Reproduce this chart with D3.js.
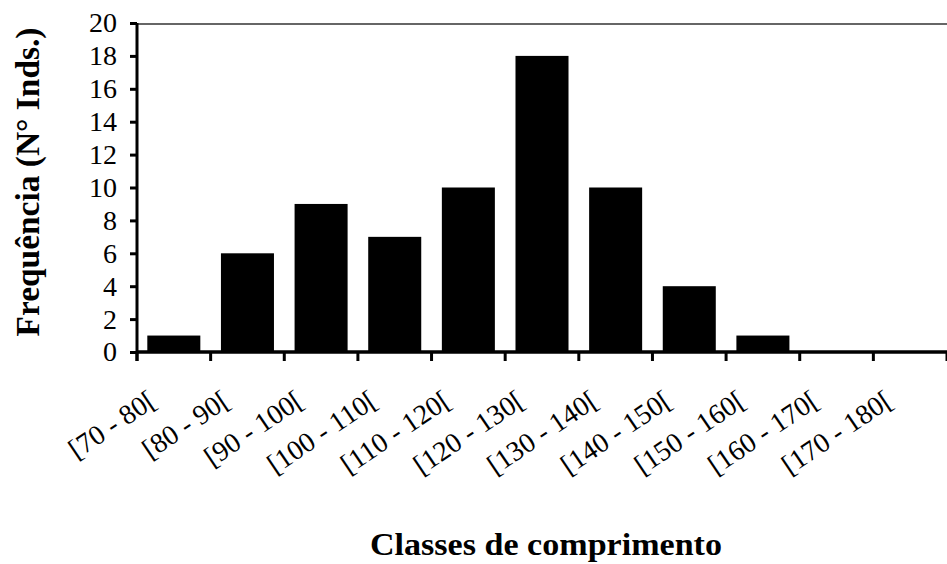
<!DOCTYPE html>
<html>
<head>
<meta charset="utf-8">
<script src="https://cdn.jsdelivr.net/npm/d3@7/dist/d3.min.js"></script>
<style>
  html, body { margin: 0; padding: 0; background: #fff; }
  svg { display: block; }
</style>
</head>
<body>
<svg id="chart" width="947" height="564"></svg>
<script>
const categories = ["[70 - 80[", "[80 - 90[", "[90 - 100[", "[100 - 110[", "[110 - 120[", "[120 - 130[",
                    "[130 - 140[", "[140 - 150[", "[150 - 160[", "[160 - 170[", "[170 - 180["];
const frequencies = [1, 6, 9, 7, 10, 18, 10, 4, 1, 0, 0];
const yTicks = [0, 2, 4, 6, 8, 10, 12, 14, 16, 18, 20];
const yTitle = "Frequência (N° Inds.)";
const xTitle = "Classes de comprimento";

(function () {
const svg = d3.select("#chart");
const mLeft = 137, mRight = 947, mTop = 23, mBottom = 352;

const x = d3.scaleBand().domain(categories).range([mLeft, mRight])
  .paddingInner(0.28).paddingOuter(0.14);
const y = d3.scaleLinear().domain([0, 20]).range([mBottom, mTop]);

// top border line
svg.append("line")
  .attr("x1", mLeft).attr("x2", mRight)
  .attr("y1", y(20) + 1).attr("y2", y(20) + 1)
  .attr("stroke", "#333").attr("stroke-width", 1.5);

// bars
svg.append("g").selectAll("rect").data(categories).join("rect")
  .attr("x", d => x(d))
  .attr("width", x.bandwidth())
  .attr("y", (d, i) => y(frequencies[i]))
  .attr("height", (d, i) => y(0) - y(frequencies[i]))
  .attr("fill", "#000");

// y axis
const yAxis = d3.axisLeft(y).tickValues(yTicks).tickSize(7).tickPadding(13).tickFormat(d3.format("d"));
const gy = svg.append("g").attr("transform", `translate(${mLeft},0)`).call(yAxis);
gy.select(".domain").attr("stroke", "#000").attr("stroke-width", 3)
  .attr("d", `M0,${y(0) + 9}V${y(20)}`);
gy.selectAll(".tick line").attr("stroke", "#000").attr("stroke-width", 3);
gy.selectAll(".tick text")
  .attr("font-family", "'Liberation Serif', 'Times New Roman', serif")
  .attr("font-size", 28).attr("fill", "#000");

// x axis: baseline + boundary ticks
const step = x.step();
const boundaries = categories.map(c => x(c) - step * x.paddingInner() / 2).concat([mRight]);
const gx = svg.append("g");
gx.append("line")
  .attr("x1", mLeft).attr("x2", mRight)
  .attr("y1", y(0)).attr("y2", y(0))
  .attr("stroke", "#000").attr("stroke-width", 3.5);
gx.selectAll("line.tk").data(boundaries).join("line")
  .attr("class", "tk")
  .attr("x1", d => d).attr("x2", d => d)
  .attr("y1", y(0)).attr("y2", y(0) + 9)
  .attr("stroke", "#000").attr("stroke-width", 3);

// x labels, rotated
gx.selectAll("text").data(categories).join("text")
  .attr("transform", d => `translate(${x(d) + x.bandwidth() / 2 - 16},${y(0) + 53}) rotate(-34)`)
  .attr("text-anchor", "end")
  .attr("font-family", "'Liberation Serif', 'Times New Roman', serif")
  .attr("font-size", 28)
  .attr("fill", "#000")
  .text(d => d);

// axis titles
svg.append("text")
  .attr("transform", `translate(39,182) rotate(-90)`)
  .attr("text-anchor", "middle")
  .attr("font-family", "'Liberation Serif', 'Times New Roman', serif")
  .attr("font-weight", "bold")
  .attr("font-size", 33)
  .attr("textLength", 309).attr("lengthAdjust", "spacingAndGlyphs")
  .attr("fill", "#000")
  .text(yTitle);

svg.append("text")
  .attr("x", 546).attr("y", 555)
  .attr("text-anchor", "middle")
  .attr("font-family", "'Liberation Serif', 'Times New Roman', serif")
  .attr("font-weight", "bold")
  .attr("font-size", 31)
  .attr("textLength", 352).attr("lengthAdjust", "spacingAndGlyphs")
  .attr("fill", "#000")
  .text(xTitle);
})();
</script>
</body>
</html>
